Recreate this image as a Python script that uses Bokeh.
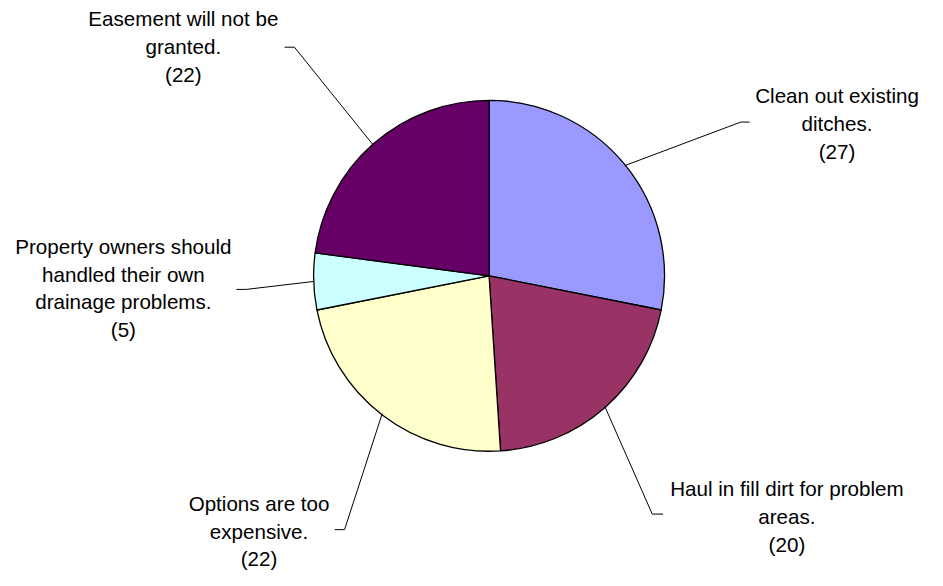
import math
from bokeh.plotting import figure
from bokeh.embed import file_html
from bokeh.resources import INLINE
from bokeh.core.properties import value
from bokeh.models import ColumnDataSource

# ---- data ----
labels = [
    "Clean out existing\nditches.",
    "Haul in fill dirt for problem\nareas.",
    "Options are too\nexpensive.",
    "Property owners should\nhandled their own\ndrainage problems.",
    "Easement will not be\ngranted.",
]
counts = [27, 20, 22, 5, 22]
colors = ["#9999FF", "#993366", "#FFFFCC", "#CCFFFF", "#660066"]

# ---- layout: data space = reference pixel space (y flipped) ----
RW, RH = 943, 586
W, H = 927, 570
S = W / RW

def Y(py):
    return RH - py

cx, cy, R = 497, Y(283), 178.5
# label block: (center x, first line y) in reference pixels
label_pos = [(851, 98), (800, 502), (263, 517), (125, 253), (186, 19)]
# leader elbow (x, y) and end of horizontal stub x, in reference pixels
elbows = [(753, 125), (663, 528), (350, 544), (250, 297), (299, 48)]
stub_end = [762, 674, 340, 240, 289]
line_gap = 28.4

p = figure(width=W, height=H, x_range=(0, RW), y_range=(0, RH),
           output_backend="svg", toolbar_location=None, tools="",
           min_border=0, outline_line_color=None)
p.axis.visible = False
p.grid.visible = False
p.background_fill_color = "white"

total = sum(counts)
starts, ends, mids = [], [], []
acc = 0.0
for c in counts:
    a0 = math.pi / 2 - 2 * math.pi * acc / total
    acc += c
    a1 = math.pi / 2 - 2 * math.pi * acc / total
    starts.append(a0)
    ends.append(a1)
    mids.append((a0 + a1) / 2)

src = ColumnDataSource(dict(start=starts, end=ends, color=colors))
p.wedge(x=cx, y=cy, radius=R, start_angle="start", end_angle="end",
        direction="clock", fill_color="color", line_color="black",
        line_width=1.3, source=src)

# leader lines
for m, (ex, ey), sx in zip(mids, elbows, stub_end):
    px = cx + R * math.cos(m)
    py = cy + R * math.sin(m)
    p.line([px, ex, sx], [py, Y(ey), Y(ey)], line_color="black", line_width=1)

# labels
tx, ty, tt = [], [], []
for lab, c, (lx, ly) in zip(labels, counts, label_pos):
    lines = lab.split("\n") + ["(%d)" % c]
    for i, ln in enumerate(lines):
        tx.append(lx)
        ty.append(Y(ly + i * line_gap))
        tt.append(ln)
p.text(x=tx, y=ty, text=tt, text_align="center", text_baseline="middle",
       text_font=value("Liberation Sans"), text_font_size="%.1fpx" % (21 * S),
       text_color="black")

open("out.html", "w").write(file_html(p, INLINE))
